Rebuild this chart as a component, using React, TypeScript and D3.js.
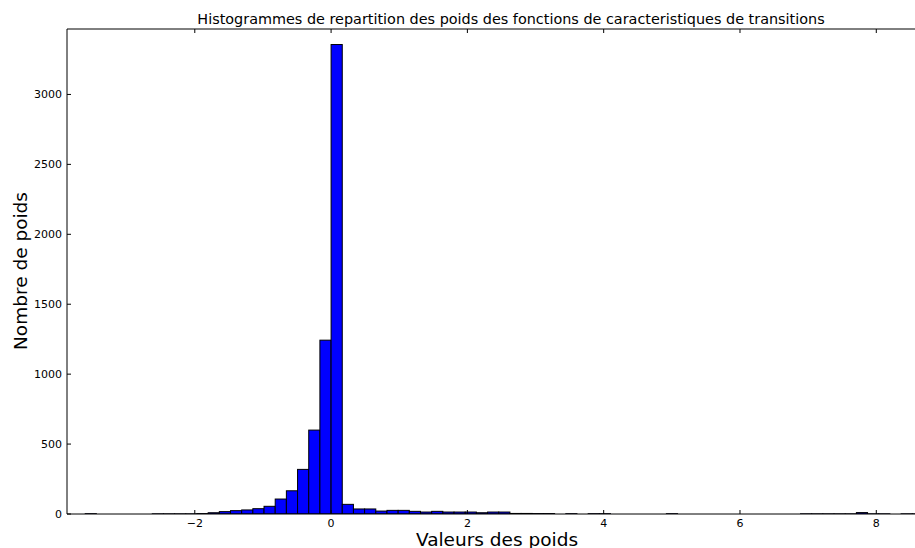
import * as d3 from "d3";

// histogram bins (left edge of first bin + constant width)
const binStart = -3.608;
const binWidth = 0.164;
const counts = [
  2, 0, 0, 0, 0, 0, 1, 1, 1, 1,
  3, 9, 17, 24, 29, 38, 55, 107, 166, 319,
  600, 1243, 3357, 69, 36, 36, 21, 26, 26, 19,
  14, 19, 14, 14, 14, 9, 14, 14, 4, 4,
  3, 3, 0, 2, 0, 2, 2, 0, 0, 0,
  0, 0, 2, 0, 0, 0, 0, 0, 0, 0,
  0, 0, 0, 0, 1, 1, 1, 1, 1, 10,
  1, 1, 0, 1, 1,
];
const xTicks = [-2, 0, 2, 4, 6, 8];
const yTicks = [0, 500, 1000, 1500, 2000, 2500, 3000];

const W = 915;
const H = 548;
const plot = { left: 67, right: 955, top: 29, bottom: 514 };

export default function App() {
  const x = d3.scaleLinear().domain([-3.875, 9.155]).range([plot.left, plot.right]);
  const y = d3.scaleLinear().domain([0, 3468]).range([plot.bottom, plot.top]);
  const fmt = (v: number) => (v < 0 ? "\u2212" + Math.abs(v) : String(v));
  const font = "'DejaVu Sans', sans-serif";

  return (
    <svg
      width={W}
      height={H}
      style={{ position: "absolute", left: 0, top: 0, background: "#fff" }}
      fontFamily={font}
    >
      <defs>
        <clipPath id="plotclip">
          <rect x={plot.left} y={plot.top} width={plot.right - plot.left} height={plot.bottom - plot.top} />
        </clipPath>
      </defs>

      {/* bars */}
      <g clipPath="url(#plotclip)">
        {counts.map((c, i) => {
          if (c === 0) return null;
          const x0 = x(binStart + i * binWidth);
          const x1 = x(binStart + (i + 1) * binWidth);
          return (
            <rect
              key={i}
              x={x0}
              y={y(c)}
              width={x1 - x0}
              height={plot.bottom - y(c)}
              fill="#0000ff"
              stroke="#000"
              strokeWidth={1}
            />
          );
        })}
      </g>

      {/* spines */}
      <g stroke="#000" strokeWidth={1} fill="none">
        <line x1={plot.left} x2={plot.left} y1={plot.top} y2={plot.bottom} />
        <line x1={plot.left} x2={plot.right} y1={plot.bottom} y2={plot.bottom} />
        <line x1={plot.left} x2={plot.right} y1={plot.top} y2={plot.top} />
        <line x1={plot.right} x2={plot.right} y1={plot.top} y2={plot.bottom} />
      </g>

      {/* x ticks */}
      {xTicks.map((t) => (
        <g key={t}>
          <line x1={x(t)} x2={x(t)} y1={plot.bottom} y2={plot.bottom - 4} stroke="#000" />
          <line x1={x(t)} x2={x(t)} y1={plot.top} y2={plot.top + 4} stroke="#000" />
          <text x={x(t)} y={527} fontSize={11} textAnchor="middle" fill="#000">
            {fmt(t)}
          </text>
        </g>
      ))}

      {/* y ticks */}
      {yTicks.map((t) => (
        <g key={t}>
          <line x1={plot.left} x2={plot.left + 4} y1={y(t)} y2={y(t)} stroke="#000" />
          <line x1={plot.right} x2={plot.right - 4} y1={y(t)} y2={y(t)} stroke="#000" />
          <text x={62} y={y(t)} dy="0.35em" fontSize={11} textAnchor="end" fill="#000">
            {t}
          </text>
        </g>
      ))}

      <text x={511} y={24} fontSize={14.4} textAnchor="middle" fill="#000">
        Histogrammes de repartition des poids des fonctions de caracteristiques de transitions
      </text>
      <text x={497} y={546} fontSize={18.5} textAnchor="middle" fill="#000">
        Valeurs des poids
      </text>
      <text
        transform={`translate(27,${271}) rotate(-90)`}
        fontSize={18.5}
        textAnchor="middle"
        fill="#000"
      >
        Nombre de poids
      </text>
    </svg>
  );
}
